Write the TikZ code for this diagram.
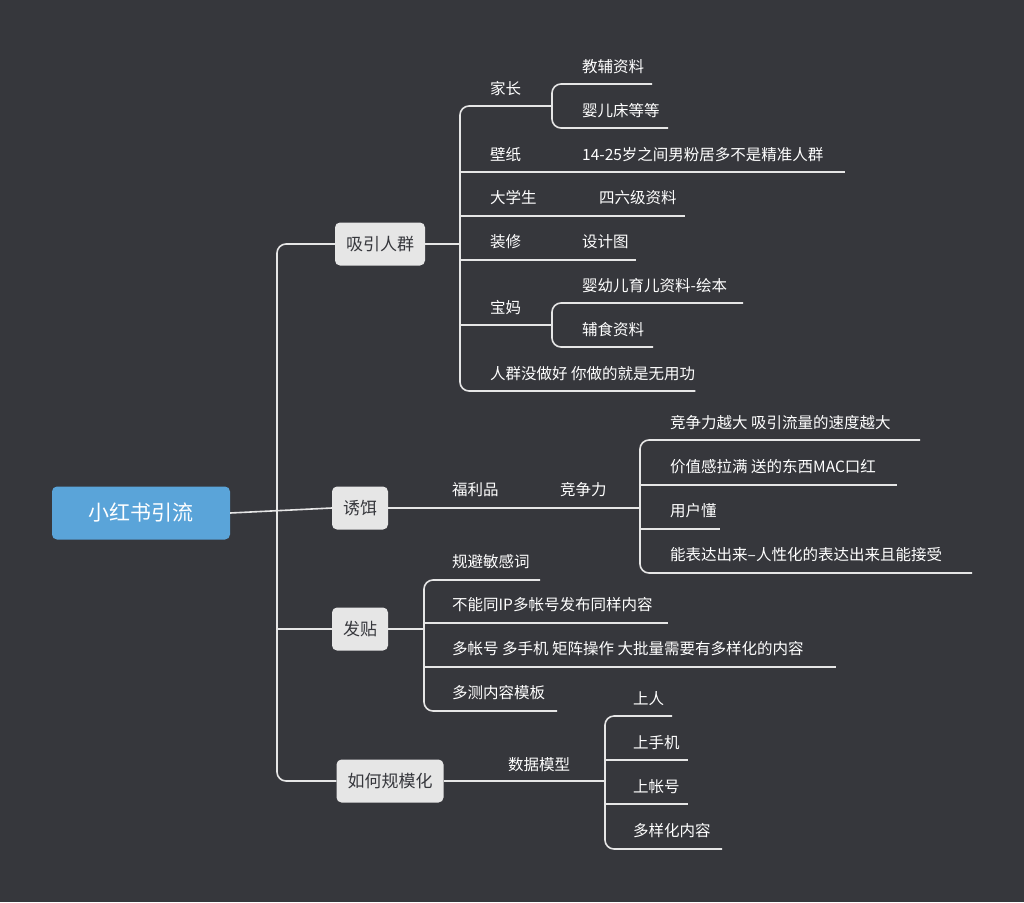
\documentclass[tikz,border=0pt]{standalone}
\usepackage{fontspec}
\setmainfont{Noto Sans CJK SC}
\definecolor{bgc}{HTML}{36373C}
\definecolor{linec}{HTML}{E6E6E6}
\definecolor{rootc}{HTML}{5AA4D9}
\definecolor{topicc}{HTML}{E6E6E6}
\tikzset{
  ln/.style={draw=linec, line width=1.6pt, rounded corners=9pt},
  leaf/.style={anchor=west, inner sep=0pt, text=white, font=\fontsize{15.5}{18}\selectfont},
  topic/.style={fill=topicc, rounded corners=5pt, minimum height=43pt, inner xsep=11pt, text=bgc, font=\fontsize{17}{20}\selectfont},
  root/.style={fill=rootc, rounded corners=5pt, minimum width=178pt, minimum height=53pt, text=white, font=\fontsize{21}{24}\selectfont}
}
\begin{document}
\begin{tikzpicture}[x=1pt,y=-1pt]
\fill[bgc] (0,0) rectangle (1024,902);
\useasboundingbox (0,0) rectangle (1024,902);

% main topics
\node[root] (root) at (141,513) {小红书引流};
\node[topic] (lure) at (360,508) {诱饵};
\node[topic] (crowd) at (380,244) {吸引人群};
\node[topic] (post) at (360,629) {发贴};
\node[topic] (scale) at (390,781) {如何规模化};

\draw[ln] (crowd.west) -- (277,244) -- (277,781) -- (scale.west);
\draw[ln] (root.east) -- (lure.west);
\draw[ln] (277,629) -- (post.west);

% 吸引人群
\node[leaf] (parent) at (490,89) {家长};
\node[leaf] (tutor) at (582,67) {教辅资料};
\node[leaf] (crib) at (582,111) {婴儿床等等};
\node[leaf] (paper) at (490,155) {壁纸};
\node[leaf] (fans) at (582,155) {14-25岁之间男粉居多不是精准人群};
\node[leaf] (student) at (490,198) {大学生};
\node[leaf] (cet) at (599,198) {四六级资料};
\node[leaf] (deco) at (490,242) {装修};
\node[leaf] (design) at (582,242) {设计图};
\node[leaf] (mom) at (490,308) {宝妈};
\node[leaf] (book) at (582,286) {婴幼儿育儿资料-绘本};
\node[leaf] (food) at (582,330) {辅食资料};
\node[leaf] (warn) at (490,374) {人群没做好 你做的就是无用功};

\draw[ln] (crowd.east) -- (460,244);
\draw[ln] (552,106) -- (460,106) -- (460,391) -- (warn.south east |- 0,391);
\draw[ln] (460,172) -- (845,172);
\draw[ln] (460,216) -- (685,216);
\draw[ln] (460,260) -- (636,260);
\draw[ln] (460,325) -- (552,325);
\draw[ln] (652,84) -- (552,84) -- (552,128) -- (668,128);
\draw[ln] (743,303) -- (552,303) -- (552,347) -- (653,347);

% 诱饵
\node[leaf] (gift) at (452,490) {福利品};
\node[leaf] (compete) at (560,490) {竞争力};
\node[leaf] (c1) at (670,423) {竞争力越大 吸引流量的速度越大};
\node[leaf] (c2) at (670,467) {价值感拉满 送的东西MAC口红};
\node[leaf] (c3) at (670,511) {用户懂};
\node[leaf] (c4) at (670,555) {能表达出来--人性化的表达出来且能接受};

\draw[ln] (lure.east) -- (640,508);
\draw[ln] (920,440) -- (640,440) -- (640,573) -- (972,573);
\draw[ln] (640,485) -- (897,485);
\draw[ln] (640,529) -- (720,529);

% 发贴
\node[leaf] (p1) at (452,562) {规避敏感词};
\node[leaf] (p2) at (452,605) {不能同IP多帐号发布同样内容};
\node[leaf] (p3) at (452,649) {多帐号 多手机 矩阵操作 大批量需要有多样化的内容};
\node[leaf] (p4) at (452,693) {多测内容模板};

\draw[ln] (post.east) -- (424,629);
\draw[ln] (540,580) -- (424,580) -- (424,711) -- (557,711);
\draw[ln] (424,623) -- (668,623);
\draw[ln] (424,667) -- (836,667);

% 如何规模化
\node[leaf] (model) at (508,765) {数据模型};
\node[leaf] (s1) at (633,699) {上人};
\node[leaf] (s2) at (633,743) {上手机};
\node[leaf] (s3) at (633,787) {上帐号};
\node[leaf] (s4) at (633,831) {多样化内容};

\draw[ln] (scale.east) -- (605,781);
\draw[ln] (672,716) -- (605,716) -- (605,849) -- (722,849);
\draw[ln] (605,760) -- (688,760);
\draw[ln] (605,804) -- (688,804);
\end{tikzpicture}
\end{document}
